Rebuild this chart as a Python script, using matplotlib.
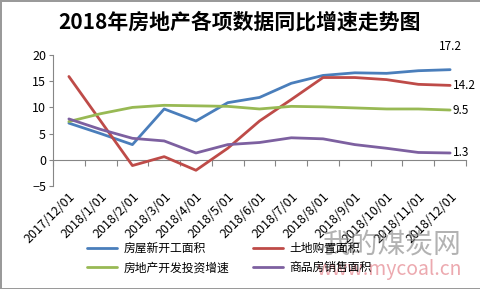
import matplotlib
matplotlib.use("Agg")
from matplotlib import pyplot as plt
import numpy as np

plt.rcParams['font.family'] = ['Noto Sans CJK SC', 'DejaVu Sans']

months = ['2017/12/01', '2018/1/01', '2018/2/01', '2018/3/01', '2018/4/01',
          '2018/5/01', '2018/6/01', '2018/7/01', '2018/8/01', '2018/9/01',
          '2018/10/01', '2018/11/01', '2018/12/01']

new_start = [7.0, 5.0, 2.9, 9.7, 7.4, 10.9, 11.9, 14.6, 16.1, 16.6, 16.5, 17.0, 17.2]
land_buy = [15.9, 7.4, -1.1, 0.6, -2.0, 2.2, 7.4, 11.5, 15.7, 15.7, 15.3, 14.4, 14.2]
invest = [7.3, 8.8, 10.0, 10.4, 10.3, 10.2, 9.7, 10.2, 10.1, 9.9, 9.7, 9.7, 9.5]
sales = [7.8, 5.8, 4.1, 3.6, 1.3, 2.9, 3.3, 4.2, 4.0, 2.9, 2.2, 1.4, 1.3]

names = ['房屋新开工面积', '土地购置面积', '房地产开发投资增速', '商品房销售面积']
colors = ['#4A7EBB', '#BE4B48', '#98B954', '#7D60A0']

fig = plt.figure(figsize=(4.81, 2.89), dpi=100)
fig.patch.set_edgecolor('#9a9a9a')
fig.patch.set_linewidth(2)
ax = fig.add_axes([53/481, 1-186/289, 413/481, 131/289])

x = np.arange(len(months))
lines = []
for ys, c, n in zip([new_start, land_buy, invest, sales], colors, names):
    ln, = ax.plot(x, ys, color=c, lw=2.0, label=n, solid_capstyle='round')
    lines.append(ln)

ymin, ymax = -5, 20
ax.set_ylim(ymin, ymax)
ax.set_xlim(-0.5, len(months) - 0.5)
ax.set_yticks(np.arange(-5, 21, 5))
ax.tick_params(axis='y', length=3, color='#868686', labelsize=9, pad=2)

ax.set_xticks(x)
ax.set_xticklabels(months, rotation=45, ha='right', rotation_mode='anchor', fontsize=9)
ax.tick_params(axis='x', length=0, pad=3)

for s in ['top', 'right', 'bottom']:
    ax.spines[s].set_visible(False)
ax.spines['left'].set_color('#868686')

# horizontal axis line at zero with tick marks between categories
sec = ax.secondary_xaxis((0 - ymin) / (ymax - ymin))
sec.set_xticks(np.arange(-0.5, len(months), 1.0))
sec.tick_params(axis='x', length=4, color='#868686', labelbottom=False, labeltop=False)
sec.spines['bottom'].set_color('#868686')

# end value labels
ax.annotate(f'{new_start[-1]}', (x[-1], new_start[-1]), xytext=(0, 12),
            textcoords='offset points', ha='center', va='bottom', fontsize=8.5)
for ys in [land_buy, invest, sales]:
    ax.annotate(f'{ys[-1]}', (x[-1], ys[-1]), xytext=(2, 0),
                textcoords='offset points', ha='left', va='center', fontsize=8.5)

fig.text(240/481, 1-22/289, '2018年房地产各项数据同比增速走势图',
         ha='center', va='center', fontsize=15, fontweight='bold')

fig.legend(handles=[lines[0], lines[2], lines[1], lines[3]], ncol=2,
           loc='center', bbox_to_anchor=(229/481, 1-258/289), frameon=False,
           fontsize=8.5, handlelength=2.6, columnspacing=2.0, labelspacing=0.55,
           handletextpad=0.5)

# watermark
fig.text(462/481, 1-244/289, '我的煤炭网', ha='right', va='center', fontsize=20,
         color='#808080', alpha=0.6)
fig.text(462/481, 1-270/289, 'www.mycoal.cn', ha='right', va='center', fontsize=14,
         color='#e0707a', alpha=0.6)

fig.savefig('out.png', dpi=100)
